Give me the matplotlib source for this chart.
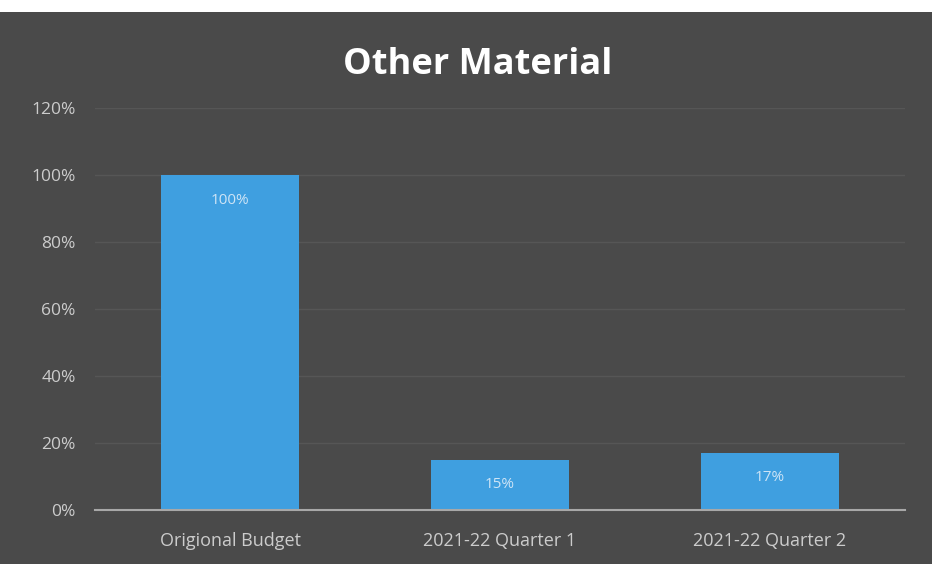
import matplotlib.pyplot as plt
from matplotlib.patches import Rectangle

categories = ['Origional Budget', '2021-22 Quarter 1', '2021-22 Quarter 2']
values = [100, 15, 17]
yticks = [0, 20, 40, 60, 80, 100, 120]

bg = '#4a4a4a'
bar_color = '#3f9fe0'

fig = plt.figure(figsize=(9.32, 5.76), dpi=100, facecolor='white')
fig.patches.append(Rectangle((0, 0.02), 1, 0.96, transform=fig.transFigure,
                             facecolor=bg, edgecolor='none', zorder=-1))

ax = fig.add_axes([0.102, 0.115, 0.869, 0.697])
ax.set_facecolor('none')
ax.set_zorder(2)

x = range(len(categories))
bars = ax.bar(x, values, width=0.51, color=bar_color, zorder=3)

for b, v in zip(bars, values):
    ax.text(b.get_x() + b.get_width() / 2, v - 7.5, f'{v}%', ha='center', va='center',
            color='#cde4f6', fontsize=11, fontfamily='Open Sans', zorder=4)

ax.set_xlim(-0.5, 2.5)
ax.set_ylim(0, 120)
ax.set_yticks(yticks)
ax.set_yticklabels([f'{t}%' for t in yticks])
ax.set_xticks(list(x))
ax.set_xticklabels(categories)
ax.tick_params(axis='both', length=0, colors='#cccccc')
ax.tick_params(axis='x', pad=16, labelsize=13)
ax.tick_params(axis='y', pad=14, labelsize=12.5)
for lbl in ax.get_xticklabels() + ax.get_yticklabels():
    lbl.set_fontfamily('Open Sans')

ax.grid(axis='y', color='#565656', linewidth=1, zorder=1)
for s in ['top', 'right', 'left']:
    ax.spines[s].set_visible(False)
ax.spines['bottom'].set_color('#a8a8a8')
ax.spines['bottom'].set_linewidth(1.5)
ax.spines['bottom'].set_zorder(5)

fig.text(0.513, 0.888, 'Other Material', ha='center', va='center', color='white',
         fontsize=26, fontweight='bold', fontfamily='Open Sans', zorder=3)

fig.savefig('out.png', dpi=100, facecolor=fig.get_facecolor())
